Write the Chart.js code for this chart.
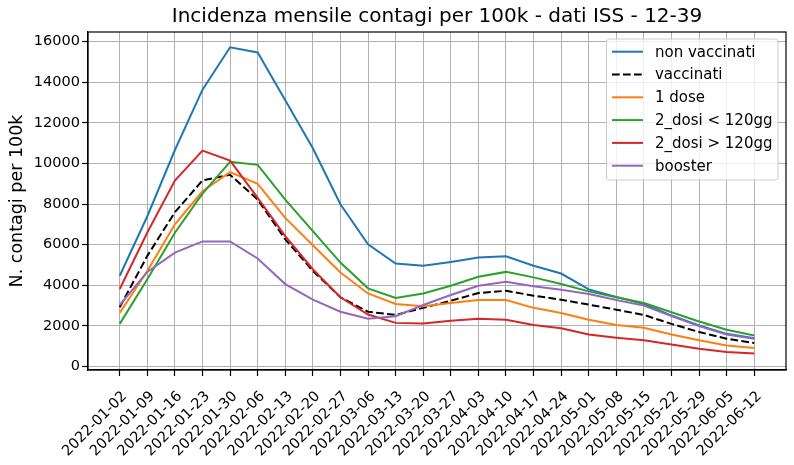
<!DOCTYPE html>
<html>
<head>
<meta charset="utf-8">
<script src="https://cdn.jsdelivr.net/npm/chart.js@4"></script>
<style>
  body { margin: 0; background: #fff; }
  #wrap { width: 794px; height: 465px; }
</style>
</head>
<body>
<div id="wrap"><canvas id="myChart"></canvas></div>
<script>
var weeks = ["2022-01-02", "2022-01-09", "2022-01-16", "2022-01-23", "2022-01-30", "2022-02-06",
             "2022-02-13", "2022-02-20", "2022-02-27", "2022-03-06", "2022-03-13", "2022-03-20",
             "2022-03-27", "2022-04-03", "2022-04-10", "2022-04-17", "2022-04-24", "2022-05-01",
             "2022-05-08", "2022-05-15", "2022-05-22", "2022-05-29", "2022-06-05", "2022-06-12"];

var nonVaccinati = [4470, 7400, 10660, 13630, 15720, 15460, 13110, 10750, 7990, 6020, 5070, 4960,
                    5150, 5370, 5430, 4960, 4580, 3800, 3430, 3080, 2510, 2020, 1610, 1390];
var vaccinati = [2920, 5450, 7600, 9160, 9440, 8220, 6260, 4710, 3410, 2700, 2540, 2890,
                 3240, 3620, 3730, 3490, 3290, 3050, 2800, 2540, 2100, 1700, 1370, 1160];
var unaDose = [2640, 4700, 7000, 8630, 9570, 8990, 7320, 5970, 4630, 3600, 3080, 2970,
               3130, 3280, 3280, 2890, 2640, 2300, 2050, 1910, 1580, 1290, 1040, 910];
var dosi2Meno120 = [2100, 4300, 6590, 8510, 10080, 9930, 8220, 6670, 5120, 3850, 3380, 3600,
                    3980, 4420, 4660, 4390, 4060, 3700, 3410, 3130, 2670, 2220, 1810, 1530];
var dosi2Piu120 = [3820, 6600, 9160, 10630, 10140, 8300, 6420, 4790, 3410, 2560, 2150, 2120,
                   2250, 2350, 2300, 2050, 1880, 1580, 1420, 1290, 1080, 880, 720, 640];
var booster = [3030, 4660, 5610, 6160, 6160, 5320, 4060, 3290, 2700, 2350, 2480, 3030,
               3520, 3980, 4170, 3950, 3780, 3570, 3280, 3000, 2480, 1990, 1580, 1370];

var yTicks = [0, 2000, 4000, 6000, 8000, 10000, 12000, 14000, 16000];

var series = [
  {label: "non vaccinati", values: nonVaccinati, color: "#1f77b4"},
  {label: "vaccinati", values: vaccinati, color: "#000000", dash: [7.7, 3.3]},
  {label: "1 dose", values: unaDose, color: "#ff7f0e"},
  {label: "2_dosi < 120gg", values: dosi2Meno120, color: "#2ca02c"},
  {label: "2_dosi > 120gg", values: dosi2Piu120, color: "#d62728"},
  {label: "booster", values: booster, color: "#9467bd"}
];

Chart.defaults.font.family = "'DejaVu Sans', sans-serif";
Chart.defaults.color = "#000";

// box around the plot, like matplotlib axes
const frame = {
  id: 'frame',
  afterDatasetsDraw(chart) {
    const {ctx, chartArea: a} = chart;
    ctx.save();
    ctx.strokeStyle = '#000';
    ctx.lineWidth = 1.2;
    ctx.strokeRect(a.left, a.top, a.right - a.left, a.bottom - a.top);
    ctx.restore();
  }
};

// legend inside the plot, top right
const insideLegend = {
  id: 'insideLegend',
  afterDraw(chart) {
    const {ctx, chartArea: a} = chart;
    const fs = 15;
    const sets = chart.data.datasets;
    ctx.save();
    ctx.font = fs + "px 'DejaVu Sans'";
    let maxW = 0;
    sets.forEach(d => { maxW = Math.max(maxW, ctx.measureText(d.label).width); });
    const pad = 5.5, handle = 31, gap = 12, rowH = 22.8;
    const w = pad + handle + gap + maxW + pad;
    const h = 12.7 + rowH * (sets.length - 1) + 14.3;
    const x0 = a.right - 8 - w, y0 = a.top + 7;
    ctx.beginPath();
    if (ctx.roundRect) ctx.roundRect(x0, y0, w, h, 3); else ctx.rect(x0, y0, w, h);
    ctx.fillStyle = 'rgba(255,255,255,0.8)';
    ctx.fill();
    ctx.strokeStyle = '#cccccc';
    ctx.lineWidth = 1;
    ctx.stroke();
    ctx.textBaseline = 'middle';
    sets.forEach((d, i) => {
      const y = y0 + 12.7 + i * rowH;
      ctx.beginPath();
      ctx.setLineDash(d.borderDash || []);
      ctx.strokeStyle = d.borderColor;
      ctx.lineWidth = 2;
      ctx.moveTo(x0 + pad, y);
      ctx.lineTo(x0 + pad + handle, y);
      ctx.stroke();
      ctx.setLineDash([]);
      ctx.fillStyle = '#000';
      ctx.fillText(d.label, x0 + pad + handle + gap, y + 1);
    });
    ctx.restore();
  }
};

const ctx = document.getElementById('myChart');

const chart = new Chart(ctx, {
  type: 'line',
  data: {
    datasets: series.map((s, i) => ({
      label: s.label,
      data: s.values.map((v, k) => ({x: k, y: v})),
      borderColor: s.color,
      backgroundColor: s.color,
      borderWidth: 2,
      borderDash: s.dash || [],
      pointRadius: 0,
      tension: 0,
      order: series.length - i
    }))
  },
  options: {
    responsive: true,
    maintainAspectRatio: false,
    animation: false,
    layout: {padding: {left: 0, right: 8, top: 0, bottom: 0}},
    scales: {
      x: {
        type: 'linear',
        min: -1.15,
        max: weeks.length - 1 + 1.15,
        afterBuildTicks: (axis) => { axis.ticks = weeks.map((_, i) => ({value: i})); },
        afterFit: (axis) => { axis.height = 95; },
        ticks: {
          autoSkip: false,
          minRotation: 45,
          maxRotation: 45,
          padding: 12,
          labelOffset: 5,
          font: {size: 14.5},
          callback: (value) => weeks[value]
        },
        grid: {color: '#b0b0b0', lineWidth: 1, tickColor: '#000', tickLength: 6, tickWidth: 1.2},
        border: {display: true, color: '#000', width: 1.2}
      },
      y: {
        min: -170,
        max: 16470,
        afterBuildTicks: (axis) => { axis.ticks = yTicks.map(v => ({value: v})); },
        afterFit: (axis) => { axis.width = 88; },
        ticks: {padding: 2, font: {size: 14.5}, callback: (value) => String(value)},
        title: {
          display: true,
          text: 'N. contagi per 100k',
          font: {size: 17.5},
          padding: {top: 6.5, bottom: 0}
        },
        grid: {color: '#b0b0b0', lineWidth: 1, tickColor: '#000', tickLength: 6, tickWidth: 1.2},
        border: {display: true, color: '#000', width: 1.2}
      }
    },
    plugins: {
      legend: {display: false},
      tooltip: {enabled: false},
      title: {
        display: true,
        text: 'Incidenza mensile contagi per 100k - dati ISS - 12-39',
        fullSize: false,
        font: {size: 20, weight: 'normal'},
        padding: {top: 5, bottom: 3}
      }
    }
  },
  plugins: [frame, insideLegend]
});
</script>
</body>
</html>
